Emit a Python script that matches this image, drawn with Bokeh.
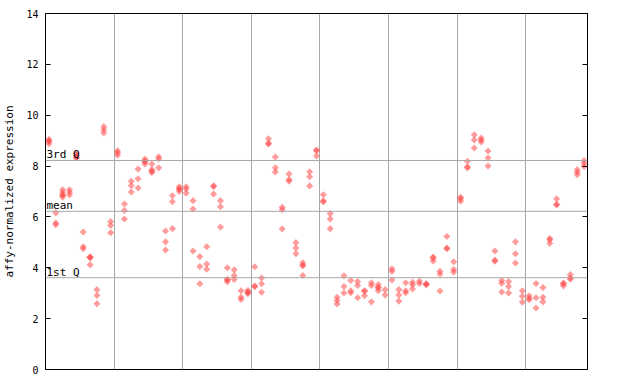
from bokeh.plotting import figure
from bokeh.models import Span, LinearAxis, FixedTicker, ColumnDataSource, Range1d, Grid
from bokeh.embed import file_html
from bokeh.resources import INLINE
from bokeh.core.properties import value

# expression values per sample column, grouped by tissue block
group1 = [[9.05, 8.98, 8.98, 8.88], [6.16, 5.76, 5.69], [7.07, 6.97, 6.86, 6.86, 6.78], [7.07, 6.97, 6.86],
          [8.50, 8.42, 8.33, 8.33], [5.41, 4.83, 4.75], [4.43, 4.40, 4.40, 4.12], [3.14, 2.91, 2.59],
          [9.55, 9.43, 9.30], [5.82, 5.66, 5.38]]
group2 = [[8.60, 8.52, 8.43], [6.51, 6.25, 5.92], [7.40, 7.23, 6.98], [7.88, 7.50, 7.14],
          [8.28, 8.18, 8.18, 8.08], [8.08, 7.86, 7.80, 7.75], [8.37, 8.28, 7.93], [5.45, 5.02, 4.70],
          [6.83, 6.60, 5.54], [7.19, 7.10, 7.10, 7.00]]
group3 = [[7.19, 7.10, 6.93], [6.64, 6.31, 4.66], [4.44, 4.05, 3.37], [4.83, 4.15, 3.94],
          [7.22, 7.20, 6.90], [6.64, 6.40, 5.60], [4.00, 3.55, 3.52, 3.45], [3.92, 3.70, 3.54],
          [3.10, 2.84, 2.75], [3.12, 3.04, 3.03, 2.98]]
group4 = [[4.04, 3.28, 3.26], [3.60, 3.37, 3.04], [9.07, 8.90, 8.87], [8.36, 7.93, 7.77],
          [6.38, 6.28, 5.53], [7.69, 7.47, 7.40], [4.99, 4.78, 4.55], [4.20, 4.10, 4.08, 3.70],
          [7.78, 7.58, 7.22], [8.63, 8.60, 8.40]]
group5 = [[6.87, 6.63, 6.60], [6.13, 5.92, 5.54], [2.84, 2.71, 2.58], [3.69, 3.26, 3.01],
          [3.50, 3.10, 3.02], [3.46, 3.30, 2.82], [3.10, 3.08, 2.90], [3.41, 3.30, 2.66],
          [3.34, 3.23, 3.21, 3.10], [3.14, 2.93]]
group6 = [[3.96, 3.86, 3.52], [3.14, 2.93, 2.69], [3.41, 3.10, 3.02], [3.43, 3.33, 3.17],
          [3.47, 3.38], [3.37, 3.35, 3.33], [4.42, 4.38, 4.27], [3.86, 3.76, 3.09],
          [5.23, 4.78, 4.75], [4.24, 3.93, 3.83]]
group7 = [[6.77, 6.72, 6.62], [8.19, 7.97, 7.93], [9.23, 9.03, 8.71], [9.10, 9.03, 8.95],
          [8.59, 8.32, 8.00], [4.66, 4.30, 4.26], [3.50, 3.39, 3.05], [3.46, 3.26, 3.01],
          [5.02, 4.55, 4.19], [3.10, 2.88, 2.65]]
group8 = [[2.90, 2.80, 2.74], [3.38, 2.82, 2.42], [3.22, 2.84, 2.66], [5.15, 5.10, 4.96],
          [6.71, 6.50, 6.47], [3.40, 3.37, 3.29], [3.73, 3.60, 3.55], [7.86, 7.76, 7.66],
          [8.21, 8.10, 7.98]]

groups = [group1, group2, group3, group4, group5, group6, group7, group8]

q_labels = ["3rd Q", "mean", "1st Q"]
q_values = [8.22, 6.22, 3.61]

y_ticks = [0, 2, 4, 6, 8, 10, 12, 14]

# build point table
xs, ys = [], []
col = 0
boundaries = []
for g in groups:
    for sample in g:
        for v in sample:
            xs.append(col)
            ys.append(v)
        col += 1
    boundaries.append(col - 0.5)
n_cols = col
boundaries = boundaries[:-1]

src = ColumnDataSource(data=dict(x=xs, y=ys))

FONT = "DejaVu Sans Mono"

p = figure(width=640, height=384, x_range=Range1d(-0.5, n_cols - 0.5), y_range=Range1d(0, 14),
           output_backend="svg", toolbar_location=None, x_axis_type=None,
           min_border_left=44, min_border_right=53, min_border_top=13, min_border_bottom=15)
p.outline_line_color = "black"
p.outline_line_width = 1
p.background_fill_color = "white"
p.border_fill_color = "white"
p.ygrid.visible = False

vgrid = Grid(dimension=0, ticker=FixedTicker(ticks=boundaries), grid_line_color="#a8a8a8", grid_line_width=1)
p.add_layout(vgrid)

for qv in q_values:
    p.add_layout(Span(location=qv, dimension="width", line_color="#a8a8a8", line_width=1))

# left axis
ax = p.yaxis[0]
ax.ticker = FixedTicker(ticks=y_ticks)
ax.major_tick_in = 5
ax.major_tick_out = 0
ax.minor_tick_line_color = None
ax.axis_line_color = "black"
ax.major_label_text_font = FONT
ax.major_label_text_font_size = "10px"
ax.major_label_text_color = "black"
ax.major_label_standoff = 7
ax.axis_label = "affy-normalized expression"
ax.axis_label_text_font = FONT
ax.axis_label_text_font_size = "11px"
ax.axis_label_text_font_style = "normal"
ax.axis_label_text_color = "black"
ax.axis_label_standoff = 7

rax = LinearAxis(ticker=FixedTicker(ticks=y_ticks), major_tick_in=5, major_tick_out=0,
                 minor_tick_line_color=None, major_label_text_font_size="0px", axis_line_color="black")
p.add_layout(rax, "right")

p.scatter(x="x", y="y", source=src, marker="square", angle=0.785398, size=5,
          fill_color="#ff4d4d", fill_alpha=0.55, line_color=None)

p.text(x=[-0.5] * len(q_labels), y=q_values, text=q_labels, x_offset=1, y_offset=1,
       text_baseline="bottom", text_align="left", text_font=value(FONT),
       text_font_size="11px", text_color="black")

open("out.html", "w").write(file_html(p, INLINE))
